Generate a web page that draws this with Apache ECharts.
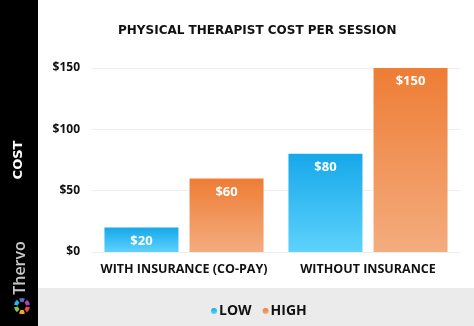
<!DOCTYPE html>
<html><head><meta charset="utf-8">
<style>html,body{margin:0;padding:0;background:#fff}#c{width:474px;height:326px}</style>
<script src="https://cdn.jsdelivr.net/npm/echarts@6/dist/echarts.min.js"></script>
</head><body><div id="c"></div>
<script>
const categories = ['WITH INSURANCE (CO-PAY)', 'WITHOUT INSURANCE'];
const lowValues = [20, 80];
const highValues = [60, 150];
const yTicks = [0, 50, 100, 150];
const title = 'PHYSICAL THERAPIST COST PER SESSION';

const chart = echarts.init(document.getElementById('c'));
const grad = (a, b) => new echarts.graphic.LinearGradient(0, 0, 0, 1, [{offset: 0, color: a}, {offset: 1, color: b}]);
const F = '"Open Sans", sans-serif';
const logoColors = ['#e94e3c', '#f5a623', '#8bc34a', '#29b6f6', '#5c6bc0', '#ab47bc'];
const logo = logoColors.map((c, i) => ({
  type: 'sector', shape: {cx: 22, cy: 306, r0: 4, r: 8, startAngle: i * Math.PI / 3 + 0.15, endAngle: (i + 1) * Math.PI / 3 - 0.15},
  style: {fill: c}, z: 10
}));
chart.setOption({
  animation: false,
  title: {text: title, left: 118, top: 25, padding: 0,
    textStyle: {fontFamily: '"DejaVu Sans", sans-serif', fontWeight: 'bold', fontSize: 12, color: '#111'}},
  graphic: [
    {type: 'rect', shape: {x: 0, y: 0, width: 38, height: 326}, style: {fill: '#000'}, z: 1},
    {type: 'rect', shape: {x: 38, y: 288, width: 436, height: 38}, style: {fill: '#ebebeb'}, z: -1, silent: true},
    {type: 'text', x: 19, y: 160, rotation: Math.PI / 2, style: {text: 'COST', fill: '#fff', font: 'bold 13px "DejaVu Sans", sans-serif', textAlign: 'center', textVerticalAlign: 'middle'}, z: 10},
    {type: 'text', x: 20, y: 268, rotation: Math.PI / 2, style: {text: 'Thervo', fill: '#c8c8c8', font: '600 16px "Open Sans", sans-serif', textAlign: 'center', textVerticalAlign: 'middle'}, z: 10},
    ...logo
  ],
  legend: {data: ['LOW', 'HIGH'], left: 206, top: 299, icon: 'circle', itemWidth: 6, itemHeight: 6, itemGap: 11,
    textStyle: {fontFamily: F, fontWeight: 'bold', fontSize: 14, color: '#111', padding: [0, 0, 0, -3]}},
  grid: {left: 92, right: 14, top: 68, bottom: 74},
  xAxis: {type: 'category', data: categories, axisLine: {show: false}, axisTick: {show: false},
    axisLabel: {interval: 0, fontFamily: F, fontWeight: 'bold', fontSize: 12.5, color: '#111', margin: 11}},
  yAxis: {type: 'value', min: 0, max: 150, interval: 50,
    axisLabel: {fontFamily: F, fontWeight: 'bold', fontSize: 12, color: '#111', margin: 12,
      formatter: v => yTicks.includes(v) ? '$' + v : ''},
    splitLine: {lineStyle: {color: '#eeeeee'}}},
  series: [
    {name: 'LOW', type: 'bar', data: lowValues, barWidth: 74, barGap: '15%',
      itemStyle: {color: grad('#16a8ea', '#5dd2fc')},
      label: {show: true, position: 'insideTop', distance: 7, formatter: p => '$' + p.value, color: '#fff', fontFamily: F, fontWeight: 'bold', fontSize: 13}},
    {name: 'HIGH', type: 'bar', data: highValues, barWidth: 74,
      itemStyle: {color: grad('#ee7d35', '#f4ac7e')},
      label: {show: true, position: 'insideTop', distance: 7, formatter: p => '$' + p.value, color: '#fff', fontFamily: F, fontWeight: 'bold', fontSize: 13}}
  ]
});
</script></body></html>
